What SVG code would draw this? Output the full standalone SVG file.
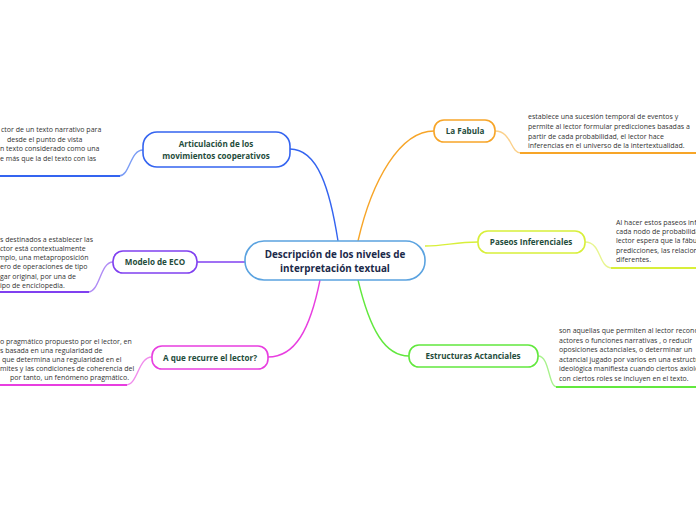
<svg xmlns="http://www.w3.org/2000/svg" width="696" height="520" viewBox="0 0 696 520">
<style>
.node{fill:#ffffff;stroke-width:1.6}
.lbl{font-family:"Open Sans","Noto Sans",sans-serif;font-weight:bold;font-size:8.1px;fill:#1f4d3c;text-anchor:middle}
.ctr{font-family:"Open Sans","Noto Sans",sans-serif;font-weight:bold;font-size:9.9px;fill:#1b2a4a;text-anchor:middle}
.body{font-family:"Open Sans","Noto Sans",sans-serif;font-size:7px;fill:#333333}
.c{fill:none;stroke-width:1.4}
.u{fill:none;stroke-width:2}
</style>
<rect width="696" height="520" fill="#ffffff"/>
<g id="connectors">
<path class="c" stroke="#3464f0" d="M290,149 C318,149 330,190 338,241"/>
<path class="c" stroke="#7a9cf5" d="M143,150 C130,150 130,176 119,176"/>
<path class="u" stroke="#3464f0" d="M120,176 L0,176"/>
<path class="c" stroke="#f7a528" d="M358,241 C372,180 400,131 434,131"/>
<path class="c" stroke="#fbd08a" d="M495,131 C512,131 510,153 521,153"/>
<path class="u" stroke="#f7a528" d="M520,153 L696,153"/>
<path class="c" stroke="#d8ef3a" d="M425,246 C445,246 455,242 478,242"/>
<path class="c" stroke="#e8f590" d="M585,242 C602,242 598,268 612,268"/>
<path class="u" stroke="#d8ef3a" d="M611,268 L696,268"/>
<path class="c" stroke="#8040f0" d="M245,262 L197,262"/>
<path class="c" stroke="#b08cf5" d="M113,262 C100,262 100,292 88,292"/>
<path class="u" stroke="#8040f0" d="M89,292 L0,292"/>
<path class="c" stroke="#e83ee0" d="M320,280 C310,330 295,357 268,357"/>
<path class="c" stroke="#f08cec" d="M152,357 C138,357 138,385 126,385"/>
<path class="u" stroke="#e83ee0" d="M127,385 L0,385"/>
<path class="c" stroke="#62e83e" d="M358,280 C370,330 385,356 409,356"/>
<path class="c" stroke="#a8f28c" d="M538,356 C550,356 548,387 557,387"/>
<path class="u" stroke="#62e83e" d="M556,387 L696,387"/>
</g>
<g id="center">
<rect class="node" x="245" y="241" width="180" height="39" rx="19" stroke="#5ba3e0"/>
<text class="ctr" x="335" y="258">Descripción de los niveles de</text>
<text class="ctr" x="335" y="272">interpretación textual</text>
</g>
<g id="articulacion">
<rect class="node" x="143" y="132" width="147" height="35" rx="14" stroke="#3464f0"/>
<text class="lbl" x="216" y="147">Articulación de los</text>
<text class="lbl" x="216" y="159">movimientos cooperativos</text>
<text class="body" x="1" y="132">ctor de un texto narrativo para</text>
<text class="body" x="7" y="141.5">desde el punto de vista</text>
<text class="body" x="0" y="151">n texto considerado como una</text>
<text class="body" x="0" y="160.5">e más que la del texto con las</text>
</g>
<g id="modelo">
<rect class="node" x="113" y="251" width="84" height="22" rx="10" stroke="#8040f0"/>
<text class="lbl" x="155" y="265">Modelo de ECO</text>
<text class="body" x="0" y="242">s destinados a establecer las</text>
<text class="body" x="0" y="251">ctor está contextualmente</text>
<text class="body" x="-1.5" y="260">mplo, una metaproposición</text>
<text class="body" x="0" y="269">ero de operaciones de tipo</text>
<text class="body" x="0" y="278.5">gar original, por una de</text>
<text class="body" x="0" y="287.5">ipo de enciclopedia.</text>
</g>
<g id="recurre">
<rect class="node" x="152" y="346" width="116" height="23" rx="10" stroke="#e83ee0"/>
<text class="lbl" x="210" y="361">A que recurre el lector?</text>
<text class="body" x="0" y="344">o pragmático propuesto por el lector, en</text>
<text class="body" x="0" y="353">s basada en una regularidad de</text>
<text class="body" x="2" y="362">que determina una regularidad en el</text>
<text class="body" x="0" y="371">mites y las condiciones de coherencia del</text>
<text class="body" x="10" y="380">por tanto, un fenómeno pragmático.</text>
</g>
<g id="fabula">
<rect class="node" x="434" y="120" width="61" height="22" rx="10" stroke="#f7a528"/>
<text class="lbl" x="465" y="134">La Fabula</text>
<text class="body" x="528" y="119">establece una sucesión temporal de eventos y</text>
<text class="body" x="528" y="129">permite al lector formular predicciones basadas a</text>
<text class="body" x="528" y="138.5">partir de cada probabilidad, el lector hace</text>
<text class="body" x="528" y="148">inferencias en el universo de la intertextualidad.</text>
</g>
<g id="paseos">
<rect class="node" x="478" y="231" width="107" height="22" rx="10" stroke="#d8ef3a"/>
<text class="lbl" x="531" y="245">Paseos Inferenciales</text>
<text class="body" x="616" y="225">Al hacer estos paseos inferenciales</text>
<text class="body" x="616" y="234">cada nodo de probabilidad</text>
<text class="body" x="616" y="243">lector espera que la fábula</text>
<text class="body" x="616" y="252.5">predicciones, las relaciones</text>
<text class="body" x="616" y="262">diferentes.</text>
</g>
<g id="estructuras">
<rect class="node" x="409" y="345" width="129" height="22" rx="10" stroke="#62e83e"/>
<text class="lbl" x="473" y="359">Estructuras Actanciales</text>
<text class="body" x="559" y="333">son aquellas que permiten al lector reconocer</text>
<text class="body" x="559" y="342.5">actores o funciones narrativas , o reducir</text>
<text class="body" x="559" y="352">oposiciones actanciales, o determinar un</text>
<text class="body" x="559" y="361.5">actancial jugado por varios en una estructura</text>
<text class="body" x="559" y="371">ideológica manifiesta cuando ciertos axiologías</text>
<text class="body" x="559" y="380.5">con ciertos roles se incluyen en el texto.</text>
</g>
</svg>
